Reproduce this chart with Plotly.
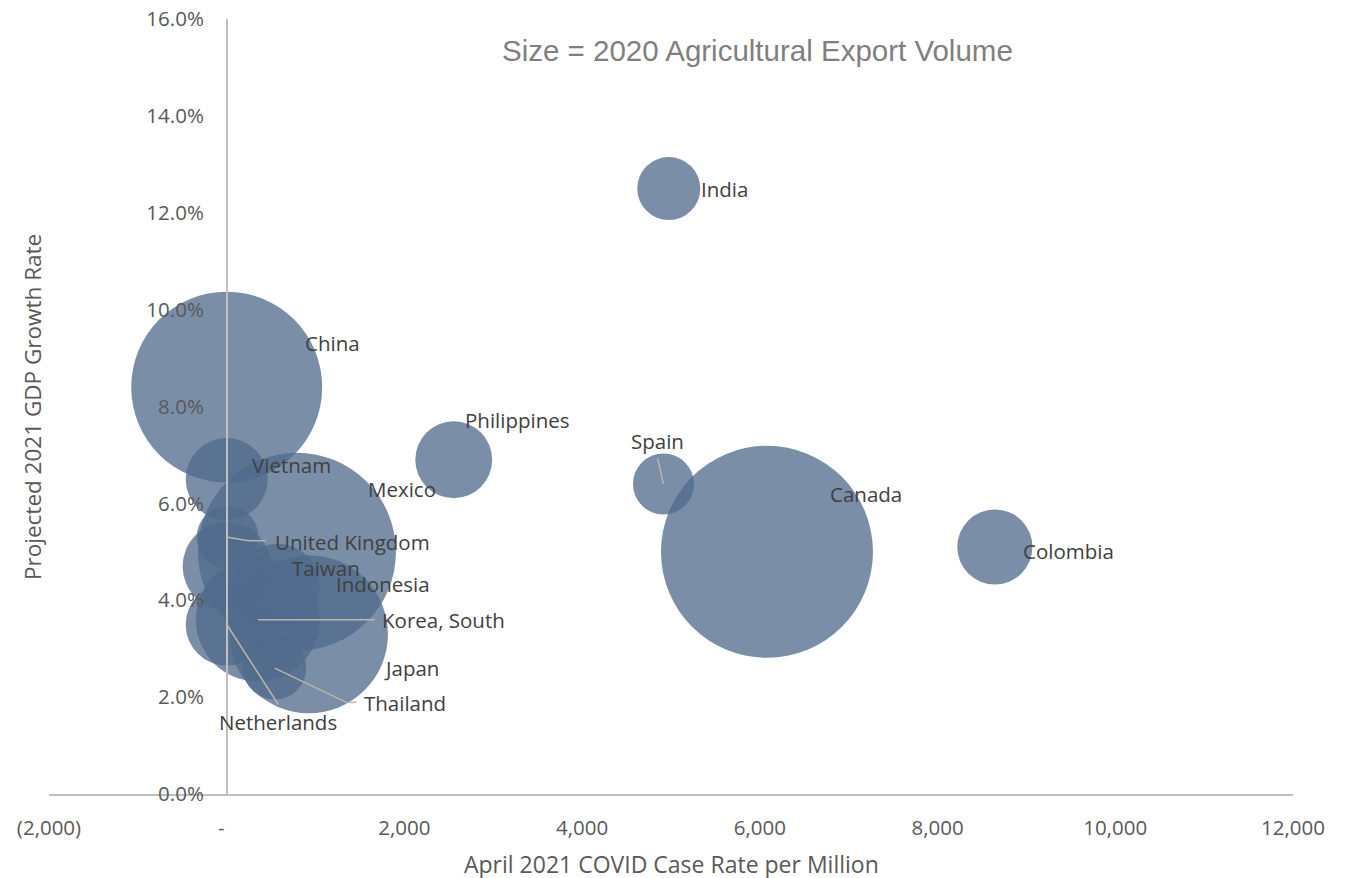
import plotly.graph_objects as go

# ---- data ----
countries = ["Canada", "Mexico", "China", "Japan", "Korea, South", "Taiwan", "Indonesia",
             "Vietnam", "Netherlands", "Philippines", "Colombia", "India", "Thailand",
             "United Kingdom", "Spain"]
case_rate = [6080, 790, 0, 925, 350, 0, 574, 0, 0, 2555, 8645, 4975, 540, 10, 4915]
gdp_growth = [0.050, 0.050, 0.084, 0.033, 0.036, 0.047, 0.043, 0.065, 0.035, 0.069,
              0.051, 0.125, 0.026, 0.053, 0.064]
export_volume = [70.0, 61.1, 56.8, 38.9, 23.9, 12.1, 11.0, 10.5, 10.5, 9.2, 8.8, 6.2, 6.2, 6.0, 5.8]

x_tickvals = [-2000, 0, 2000, 4000, 6000, 8000, 10000, 12000]
x_ticktext = ["(2,000)", "-\u00a0\u00a0", "2,000", "4,000", "6,000", "8,000", "10,000", "12,000"]

# ---- label placement: pixel offsets of the label centre from the bubble centre (style only) ----
label_offsets = {
    "China": (106, 44), "India": (56, 0), "Philippines": (64, 40),
    "Spain": (-5.5, 43.5), "Vietnam": (65, 14), "Mexico": (105, 63),
    "Canada": (99, 58), "United Kingdom": (124.5, -5), "Colombia": (74, -4),
    "Taiwan": (99, -2), "Indonesia": (105, 2), "Korea, South": (186, -0.5),
    "Japan": (103, -34), "Thailand": (130.5, -35), "Netherlands": (51, -98),
}
# leader-line polylines (pixel offsets from bubble centre, y up)
leader_lines = {
    "United Kingdom": [(0, 0), (21, -3.4), (38, -3.4)],
    "Korea, South": [(0, 0), (117, 0)],
    "Netherlands": [(0, 0), (51.6, -80)],
    "Thailand": [(0, 0), (71.7, -34.3), (81.7, -34.3)],
    "Spain": [(0, 0), (-5.8, 25.5)],
}

FONT = "Open Sans"
LABEL_SIZE = 20.5
max_diam = 212
sizeref = 2 * max(export_volume) / max_diam ** 2

# page body adds an 8px margin around the figure div
OFF = 8
W, H = 1350 - OFF, 878 - OFF
L, R, T, B = 49 - OFF, 57, 19 - OFF, 84
pw, ph = W - L - R, H - T - B


def px_to_paper_x(px):
    return (px - OFF - L) / pw


def px_to_paper_y(py):
    return (H - B - (py - OFF)) / ph


fig = go.Figure()
fig.add_trace(go.Scatter(
    x=case_rate, y=gdp_growth, mode="markers", text=countries,
    marker=dict(size=export_volume, sizemode="area", sizeref=sizeref,
                color="rgb(80,106,140)", opacity=0.76, line=dict(width=0)),
    hovertemplate="%{text}<extra></extra>", showlegend=False, cliponaxis=False,
))

shapes = []
annotations = []
for c, xv, yv in zip(countries, case_rate, gdp_growth):
    dx, dy = label_offsets[c]
    annotations.append(dict(
        x=xv, y=yv, xref="x", yref="y", text=c, showarrow=False,
        xshift=dx, yshift=dy, xanchor="center", yanchor="middle",
        font=dict(family=FONT, size=LABEL_SIZE, color="#404040")))
    pts = leader_lines.get(c)
    if pts:
        for (x0, y0), (x1, y1) in zip(pts[:-1], pts[1:]):
            shapes.append(dict(
                type="line", xref="x", yref="y", xsizemode="pixel", ysizemode="pixel",
                xanchor=xv, yanchor=yv, x0=x0, x1=x1, y0=y0, y1=y1,
                line=dict(color="#bdb5a8", width=1.5), layer="above"))

annotations += [
    dict(text="Size = 2020 Agricultural Export Volume", x=px_to_paper_x(757), y=px_to_paper_y(50),
         xref="paper", yref="paper", showarrow=False, xanchor="center", yanchor="middle",
         font=dict(family="Liberation Sans, Arial", size=29.5, color="#7f7f7f")),
    dict(text="April 2021 COVID Case Rate per Million", x=px_to_paper_x(671), y=px_to_paper_y(864),
         xref="paper", yref="paper", showarrow=False, xanchor="center", yanchor="middle",
         font=dict(family=FONT, size=23, color="#595959")),
    dict(text="Projected 2021 GDP Growth Rate", x=px_to_paper_x(32), y=px_to_paper_y(407),
         xref="paper", yref="paper", showarrow=False, textangle=-90,
         xanchor="center", yanchor="middle",
         font=dict(family=FONT, size=22.5, color="#595959")),
]

fig.update_layout(
    width=W, height=H, autosize=False,
    margin=dict(l=L, r=R, t=T, b=B, pad=0),
    paper_bgcolor="white", plot_bgcolor="white",
    annotations=annotations, shapes=shapes,
    xaxis=dict(range=[-2000, 12000], tickvals=x_tickvals, ticktext=x_ticktext,
               showgrid=False, zeroline=False, showline=True, linecolor="#bfbfbf", linewidth=1.5,
               ticks="", ticklabelstandoff=15, automargin=False, ticklabeloverflow="allow",
               tickfont=dict(family=FONT, size=20.5, color="#595959")),
    yaxis=dict(range=[0, 0.16], dtick=0.02, tickformat=".1%", anchor="free",
               position=(0 - (-2000)) / 14000, showgrid=False, zeroline=False,
               showline=True, linecolor="#bfbfbf", linewidth=1.5, ticks="",
               ticklabelstandoff=18, automargin=False, ticklabeloverflow="allow",
               tickfont=dict(family=FONT, size=20.5, color="#595959")),
)

fig.write_html("out.html")
